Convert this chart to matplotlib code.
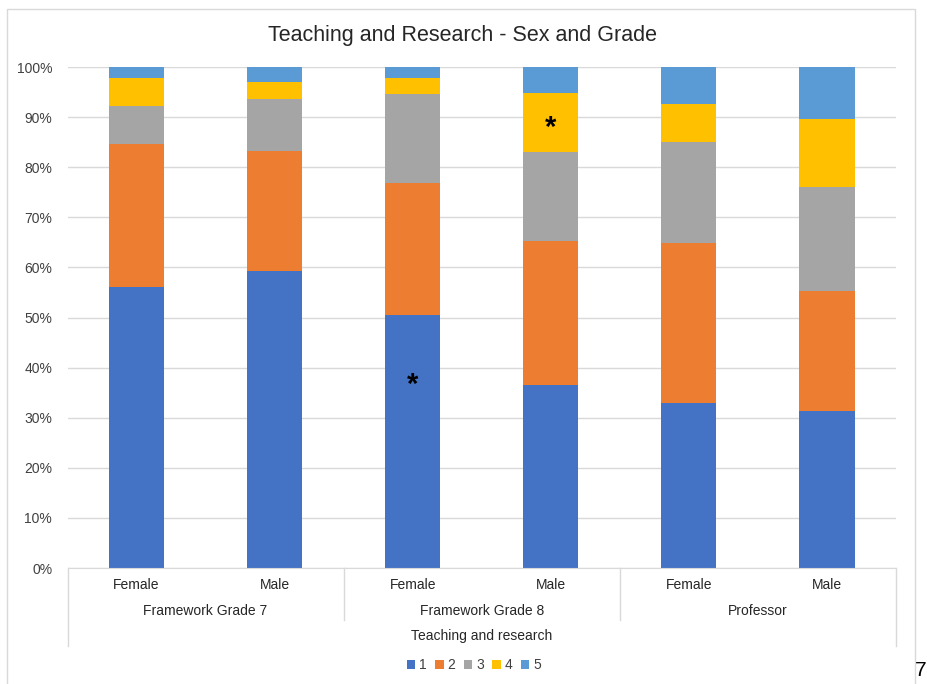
import matplotlib
matplotlib.use('Agg')
import matplotlib.pyplot as plt
import matplotlib.transforms as mtransforms
from matplotlib.patches import Rectangle
import numpy as np

plt.rcParams['font.family'] = ['Liberation Sans', 'DejaVu Sans']

sexes = ['Female', 'Male', 'Female', 'Male', 'Female', 'Male']
grades = ['Framework Grade 7', 'Framework Grade 8', 'Professor']
group_name = 'Teaching and research'
levels = ['1', '2', '3', '4', '5']

# share (%) of each score, per bar
s1 = [56.0, 59.3, 50.5, 36.5, 33.0, 31.3]
s2 = [28.6, 24.0, 26.4, 28.7, 31.9, 23.9]
s3 = [7.7, 10.4, 17.8, 17.8, 20.1, 20.8]
s4 = [5.6, 3.4, 3.1, 11.8, 7.6, 13.6]
s5 = [2.1, 2.9, 2.2, 5.2, 7.4, 10.4]

# significance stars: (bar index, y position %)
stars = [(2, 36.6), (3, 87.8)]

colors = ['#4472C4', '#ED7D31', '#A5A5A5', '#FFC000', '#5B9BD5']
grid_c = '#D9D9D9'

W, H = 927, 684
fig = plt.figure(figsize=(W / 100, H / 100), dpi=100)
ax = fig.add_axes([67.5 / W, (H - 568) / H, (896 - 67.5) / W, 501 / H])

x = np.arange(len(sexes))
bottom = np.zeros(len(sexes))
for vals, c, lab in zip([s1, s2, s3, s4, s5], colors, levels):
    ax.bar(x, vals, width=0.4, bottom=bottom, color=c, label=lab, zorder=2)
    bottom += np.array(vals)

for i, y in stars:
    ax.text(i, y, '*', ha='center', va='center', fontsize=21, fontweight='bold',
            color='black', zorder=3)

ax.set_xlim(-0.5, len(sexes) - 0.5)
ax.set_ylim(0, 100)
ax.set_yticks(np.arange(0, 101, 10))
ax.set_yticklabels([f'{v}%' for v in range(0, 101, 10)], fontsize=10, color='#404040')
ax.tick_params(axis='y', length=0, pad=11)
ax.set_xticks([])
ax.yaxis.grid(True, color=grid_c, lw=1, zorder=0)
for s in ['top', 'right', 'left']:
    ax.spines[s].set_visible(False)
ax.spines['bottom'].set_color(grid_c)

# multi-level category axis
tr = mtransforms.blended_transform_factory(ax.transData, ax.transAxes)
lc = dict(color=grid_c, lw=1, transform=tr, clip_on=False)
ax.plot([-0.5, -0.5], [0, -0.1557], **lc)
ax.plot([5.5, 5.5], [0, -0.1557], **lc)
ax.plot([1.5, 1.5], [0, -0.1038], **lc)
ax.plot([3.5, 3.5], [0, -0.1038], **lc)
for i, s in enumerate(sexes):
    ax.text(i, -0.034, s, transform=tr, ha='center', va='center', fontsize=10, color='#262626')
for j, g in enumerate(grades):
    ax.text(2 * j + 0.5, -0.0858, g, transform=tr, ha='center', va='center', fontsize=10, color='#262626')
ax.text(2.5, -0.1357, group_name, transform=tr, ha='center', va='center', fontsize=10, color='#262626')

fig.text(462 / W, 1 - 35 / H, 'Teaching and Research - Sex and Grade',
         ha='center', va='center', fontsize=15.5, color='#262626')

fig.legend(loc='center', bbox_to_anchor=(474 / W, 1 - 665 / H), ncol=5, frameon=False,
           fontsize=10, handlelength=0.6, handleheight=0.6, handletextpad=0.3,
           columnspacing=0.6, labelcolor='#404040')

# chart frame and page number
fig.add_artist(Rectangle((7 / W, -0.05), (915 - 7) / W, 1.05 - 9 / H,
                         transform=fig.transFigure, fill=False, edgecolor=grid_c, lw=1))
fig.text(915 / W, 1 - 671 / H, '7', ha='left', va='center', fontsize=15, color='black')

fig.savefig('out.png', dpi=100)
